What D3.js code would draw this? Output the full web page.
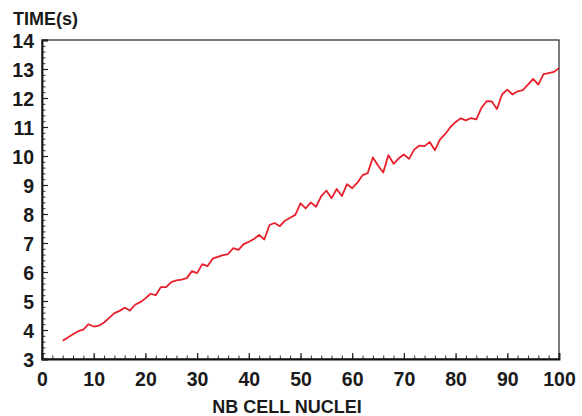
<!DOCTYPE html>
<html lang="en">
<head>
<script src="https://d3js.org/d3.v7.min.js"></script>
<style>
  body { margin: 0; background: #fff; }
  text { font-family: "Liberation Sans", Arial, Helvetica, sans-serif; font-weight: bold; fill: #1a1a1a; }
</style>
</head>
<body>
<div id="chart"></div>
<script>
// number of cell nuclei (x) and time in seconds (y)
var nuclei = d3.range(4, 101);
var times = [
  3.63, 3.74, 3.85, 3.96, 4.01, 4.20, 4.12, 4.15, 4.26, 4.42,
  4.58, 4.66, 4.77, 4.67, 4.87, 4.96, 5.09, 5.25, 5.20, 5.48,
  5.48, 5.65, 5.71, 5.74, 5.79, 6.03, 5.96, 6.27, 6.20, 6.46,
  6.52, 6.58, 6.62, 6.82, 6.76, 6.96, 7.04, 7.14, 7.28, 7.12,
  7.62, 7.69, 7.58, 7.77, 7.87, 7.97, 8.37, 8.19, 8.40, 8.25,
  8.61, 8.81, 8.54, 8.86, 8.62, 9.03, 8.89, 9.08, 9.34, 9.41,
  9.95, 9.67, 9.43, 10.03, 9.73, 9.92, 10.05, 9.90, 10.22, 10.36,
  10.34, 10.48, 10.20, 10.57, 10.76, 11.00, 11.17, 11.30, 11.23, 11.31,
  11.26, 11.66, 11.89, 11.88, 11.62, 12.13, 12.29, 12.12, 12.23, 12.27,
  12.46, 12.66, 12.46, 12.82, 12.86, 12.90, 13.03
];
var xTicks = d3.range(0, 101, 10);
var yTicks = d3.range(3, 15, 1);
var xMinor = d3.range(0, 101, 2);
var yMinor = d3.range(3, 14.01, 0.2);

var W = 582, H = 416;
var margin = {top: 40, right: 23, bottom: 57, left: 42},
    width = W - margin.left - margin.right,
    height = H - margin.top - margin.bottom;

var svg = d3.select("#chart").append("svg")
    .attr("width", W)
    .attr("height", H)
  .append("g")
    .attr("transform", "translate(" + margin.left + "," + margin.top + ")");

var x = d3.scaleLinear().domain([0, 100]).range([0, width]);
var y = d3.scaleLinear().domain([3, 14]).range([height, 0]);

// frame (top and right)
svg.append("rect")
  .attr("x", 0).attr("y", 0)
  .attr("width", width).attr("height", height)
  .attr("fill", "none")
  .attr("stroke", "#333")
  .attr("stroke-width", 1.3);

// minor ticks
svg.append("g")
  .attr("transform", "translate(0," + height + ")")
  .call(d3.axisBottom(x).tickValues(xMinor).tickSize(-3.5).tickFormat(""))
  .call(g => g.select(".domain").remove())
  .selectAll("line").attr("stroke", "#333");
svg.append("g")
  .call(d3.axisLeft(y).tickValues(yMinor).tickSize(-3.5).tickFormat(""))
  .call(g => g.select(".domain").remove())
  .selectAll("line").attr("stroke", "#333");

// major ticks + labels
var xAxis = svg.append("g")
  .attr("transform", "translate(0," + height + ")")
  .call(d3.axisBottom(x).tickValues(xTicks).tickSize(-6).tickPadding(8));
var yAxis = svg.append("g")
  .call(d3.axisLeft(y).tickValues(yTicks).tickSize(-6).tickPadding(8));

[xAxis, yAxis].forEach(function(a) {
  a.select(".domain").attr("stroke", "#111").attr("stroke-width", 1.8);
  a.selectAll(".tick line").attr("stroke", "#222").attr("stroke-width", 1.2);
  a.selectAll("text")
    .attr("fill", "#1a1a1a")
    .style("font-size", "19.5px")
    .style("font-family", "'Liberation Sans', Arial, sans-serif")
    .style("font-weight", "bold");
});
xAxis.selectAll("text").attr("y", 13);
yAxis.selectAll("text").attr("x", -8).attr("dy", "0.4em");

// data line
var line = d3.line()
  .x(function(d, i) { return x(nuclei[i]); })
  .y(function(d) { return y(d); });

svg.append("path")
  .datum(times)
  .attr("fill", "none")
  .attr("stroke", "#e8202c")
  .attr("stroke-width", 1.8)
  .attr("stroke-linejoin", "round")
  .attr("d", line);

// axis titles
d3.select("svg").append("text")
  .attr("x", 13).attr("y", 25)
  .style("font-size", "18px")
  .text("TIME(s)");
d3.select("svg").append("text")
  .attr("x", 287).attr("y", 413)
  .attr("text-anchor", "middle")
  .style("font-size", "18px")
  .text("NB CELL NUCLEI");
</script>
</body>
</html>
